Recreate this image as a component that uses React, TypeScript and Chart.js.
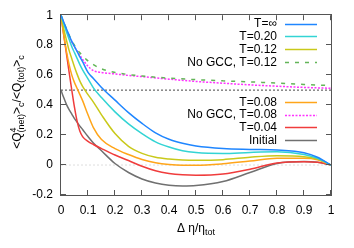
import { useEffect, useRef } from 'react';
import { Chart, registerables } from 'chart.js';

Chart.register(...registerables);

// ---- data ----
const xGrid = [0, 0.01, 0.02, 0.03, 0.04, 0.05, 0.06, 0.07, 0.08, 0.1, 0.12, 0.15, 0.2, 0.25, 0.3, 0.35, 0.4, 0.45, 0.5, 0.6, 0.7, 0.8, 0.9, 0.95, 1];
const tInf = [1, 0.955, 0.91, 0.867, 0.825, 0.79, 0.757, 0.722, 0.69, 0.618, 0.578, 0.518, 0.433, 0.35, 0.278, 0.215, 0.172, 0.145, 0.127, 0.11, 0.104, 0.1, 0.082, 0.052, 0];
const t020 = [1, 0.945, 0.89, 0.84, 0.79, 0.75, 0.71, 0.67, 0.635, 0.575, 0.515, 0.45, 0.355, 0.275, 0.21, 0.155, 0.12, 0.095, 0.083, 0.077, 0.084, 0.088, 0.07, 0.045, 0];
const t012 = [1, 0.91, 0.835, 0.765, 0.71, 0.655, 0.605, 0.56, 0.525, 0.47, 0.42, 0.335, 0.21, 0.125, 0.078, 0.052, 0.04, 0.034, 0.032, 0.036, 0.052, 0.062, 0.056, 0.04, 0];
const t008 = [1, 0.87, 0.76, 0.67, 0.6, 0.55, 0.51, 0.47, 0.43, 0.335, 0.25, 0.17, 0.11, 0.07, 0.037, 0.015, 0.003, -0.002, -0.002, 0.008, 0.027, 0.045, 0.045, 0.035, 0];
const t004 = [1, 0.87, 0.745, 0.62, 0.5, 0.385, 0.29, 0.225, 0.19, 0.158, 0.137, 0.11, 0.067, 0.03, -0.008, -0.038, -0.056, -0.065, -0.068, -0.06, -0.028, 0.014, 0.022, 0.018, 0];
const initial = [0.5, 0.45, 0.405, 0.37, 0.34, 0.31, 0.285, 0.26, 0.237, 0.19, 0.147, 0.095, 0.01, -0.05, -0.093, -0.12, -0.135, -0.14, -0.137, -0.11, -0.05, 0.01, 0.023, 0.018, 0];

const noGccX = [0, 0.02, 0.04, 0.06, 0.08, 0.1, 0.12, 0.15, 0.2, 0.25, 0.3, 0.4, 0.5, 0.6, 0.7, 0.8, 0.9, 1];
const noGcc012 = [1, 0.91, 0.83, 0.77, 0.73, 0.695, 0.67, 0.642, 0.618, 0.604, 0.594, 0.58, 0.57, 0.562, 0.555, 0.547, 0.538, 0.53];
const noGcc008 = [1, 0.9, 0.82, 0.76, 0.705, 0.66, 0.63, 0.618, 0.608, 0.598, 0.59, 0.573, 0.558, 0.546, 0.535, 0.526, 0.518, 0.512];

const refX = [0, 1];
const refHalf = [0.5, 0.5];
const refZero = [0, 0];

const xTicks = [0, 0.1, 0.2, 0.3, 0.4, 0.5, 0.6, 0.7, 0.8, 0.9, 1];
const yTicks = [-0.2, 0, 0.2, 0.4, 0.6, 0.8, 1];

const labels = ['T=∞', 'T=0.20', 'T=0.12', 'No GCC, T=0.12', 'T=0.08', 'No GCC, T=0.08', 'T=0.04', 'Initial'];

const FONT = "'Liberation Sans', Arial, Helvetica, sans-serif";

const pts = (xs: number[], ys: number[]) => xs.map((x, i) => ({ x, y: ys[i] }));

const decor = {
  id: 'decor',
  afterDraw(chart: any) {
    const { ctx, chartArea: a, scales } = chart;
    const sx = scales.x;
    const sy = scales.y;
    ctx.save();
    // frame
    ctx.strokeStyle = '#555';
    ctx.lineWidth = 1;
    ctx.setLineDash([]);
    ctx.strokeRect(Math.round(a.left) - 0.5, Math.round(a.top) - 0.5, Math.round(a.right - a.left) + 1, Math.round(a.bottom - a.top) + 1);
    ctx.beginPath();
    xTicks.forEach((v) => {
      const px = Math.round(sx.getPixelForValue(v)) - 0.5;
      ctx.moveTo(px, a.bottom);
      ctx.lineTo(px, a.bottom - 5);
      ctx.moveTo(px, a.top);
      ctx.lineTo(px, a.top + 5);
    });
    yTicks.forEach((v) => {
      const py = Math.round(sy.getPixelForValue(v)) - 0.5;
      ctx.moveTo(a.left, py);
      ctx.lineTo(a.left + 5, py);
      ctx.moveTo(a.right, py);
      ctx.lineTo(a.right - 5, py);
    });
    ctx.stroke();

    // legend
    ctx.font = `12px ${FONT}`;
    ctx.fillStyle = '#000';
    ctx.textAlign = 'right';
    ctx.textBaseline = 'middle';
    let row = 0;
    chart.data.datasets.forEach((ds: any) => {
      if (!ds.label) return;
      const y = row < 4 ? 23.5 + 12.8 * row : 101.7 + 12.8 * (row - 4);
      ctx.fillText(ds.label, 277, y + 0.5);
      ctx.strokeStyle = ds.borderColor;
      ctx.lineWidth = ds.borderWidth;
      ctx.setLineDash(ds.borderDash || []);
      ctx.beginPath();
      ctx.moveTo(285, Math.round(y) + 0.5);
      ctx.lineTo(317, Math.round(y) + 0.5);
      ctx.stroke();
      row++;
    });
    ctx.setLineDash([]);

    // x title
    ctx.textAlign = 'left';
    ctx.textBaseline = 'alphabetic';
    ctx.font = `12px ${FONT}`;
    const main = 'Δ η/η';
    const wMain = ctx.measureText(main).width;
    ctx.font = `9px ${FONT}`;
    const wSub = ctx.measureText('tot').width;
    const cx = (a.left + a.right) / 2;
    const x0 = cx - (wMain + wSub) / 2;
    ctx.font = `12px ${FONT}`;
    ctx.fillText(main, x0, 232);
    ctx.font = `9px ${FONT}`;
    ctx.fillText('tot', x0 + wMain, 235);

    // y title (rotated, with sub/superscripts)
    type Seg = { t: string; k: 'n' | 'sub' | 'ss'; sup?: string };
    const segs: Seg[] = [
      { t: '<Q', k: 'n' },
      { t: '(net)', k: 'ss', sup: '4' },
      { t: '>', k: 'n' },
      { t: 'c', k: 'sub' },
      { t: '/<Q', k: 'n' },
      { t: '(tot)', k: 'sub' },
      { t: '>', k: 'n' },
      { t: 'c', k: 'sub' },
    ];
    const widthOf = (s: Seg) => {
      if (s.k === 'n') {
        ctx.font = `12px ${FONT}`;
        return ctx.measureText(s.t).width;
      }
      ctx.font = `9px ${FONT}`;
      const w = ctx.measureText(s.t).width;
      const w2 = s.sup ? ctx.measureText(s.sup).width : 0;
      return Math.max(w, w2);
    };
    const total = segs.reduce((acc, s) => acc + widthOf(s), 0);
    ctx.translate(20.5, 102);
    ctx.rotate(-Math.PI / 2);
    let px = -total / 2;
    segs.forEach((s) => {
      const w = widthOf(s);
      if (s.k === 'n') {
        ctx.font = `12px ${FONT}`;
        ctx.fillText(s.t, px, 0);
      } else {
        ctx.font = `9px ${FONT}`;
        ctx.fillText(s.t, px, 3);
        if (s.sup) ctx.fillText(s.sup, px, -5);
      }
      px += w;
    });
    ctx.restore();
  },
};

export default function App() {
  const ref = useRef<HTMLCanvasElement | null>(null);

  useEffect(() => {
    if (!ref.current) return;
    const mk = (label: string, xs: number[], ys: number[], color: string, dash: number[] = [], width = 1.5) => ({
      label,
      data: pts(xs, ys),
      borderColor: color,
      backgroundColor: color,
      borderWidth: width,
      borderDash: dash,
      pointRadius: 0,
      fill: false,
      cubicInterpolationMode: 'monotone' as const,
    });
    const chart = new Chart(ref.current, {
      type: 'line',
      data: {
        datasets: [
          mk(labels[0], xGrid, tInf, '#1f86ff'),
          mk(labels[1], xGrid, t020, '#33d4d4'),
          mk(labels[2], xGrid, t012, '#c9c91a'),
          mk(labels[3], noGccX, noGcc012, '#63b558', [4, 6]),
          mk(labels[4], xGrid, t008, '#ffa51a'),
          mk(labels[5], noGccX, noGcc008, '#ff33ff', [2, 1.5]),
          mk(labels[6], xGrid, t004, '#f03c3c'),
          mk(labels[7], xGrid, initial, '#707070'),
          mk('', refX, refHalf, '#444444', [2, 2], 1),
          mk('', refX, refZero, '#dddddd', [2, 2], 1),
        ],
      },
      options: {
        animation: false,
        responsive: false,
        devicePixelRatio: 1,
        layout: { padding: { left: 0, right: 23, top: 15, bottom: 0 } },
        plugins: { legend: { display: false }, tooltip: { enabled: false } },
        scales: {
          x: {
            type: 'linear',
            min: 0,
            max: 1,
            grid: { display: false, drawTicks: false },
            border: { display: false },
            afterBuildTicks: (s: any) => {
              s.ticks = xTicks.map((v) => ({ value: v }));
            },
            afterFit: (s: any) => {
              s.height = 53;
            },
            ticks: {
              color: '#000',
              font: { family: FONT, size: 12 },
              padding: 8,
              maxRotation: 0,
              autoSkip: false,
              callback: (v: any) => String(Math.round(Number(v) * 10) / 10),
            },
          },
          y: {
            type: 'linear',
            min: -0.2,
            max: 1,
            grid: { display: false, drawTicks: false },
            border: { display: false },
            afterBuildTicks: (s: any) => {
              s.ticks = yTicks.map((v) => ({ value: v }));
            },
            afterFit: (s: any) => {
              s.width = 61;
            },
            ticks: {
              color: '#000',
              font: { family: FONT, size: 12 },
              padding: 8,
              autoSkip: false,
              callback: (v: any) => String(Math.round(Number(v) * 10) / 10),
            },
          },
        },
      },
      plugins: [decor],
    });
    return () => chart.destroy();
  }, []);

  return (
    <div style={{ position: 'fixed', left: 0, top: 0, width: 354, height: 248, background: '#fff' }}>
      <canvas ref={ref} width={354} height={248} style={{ display: 'block' }} />
    </div>
  );
}
